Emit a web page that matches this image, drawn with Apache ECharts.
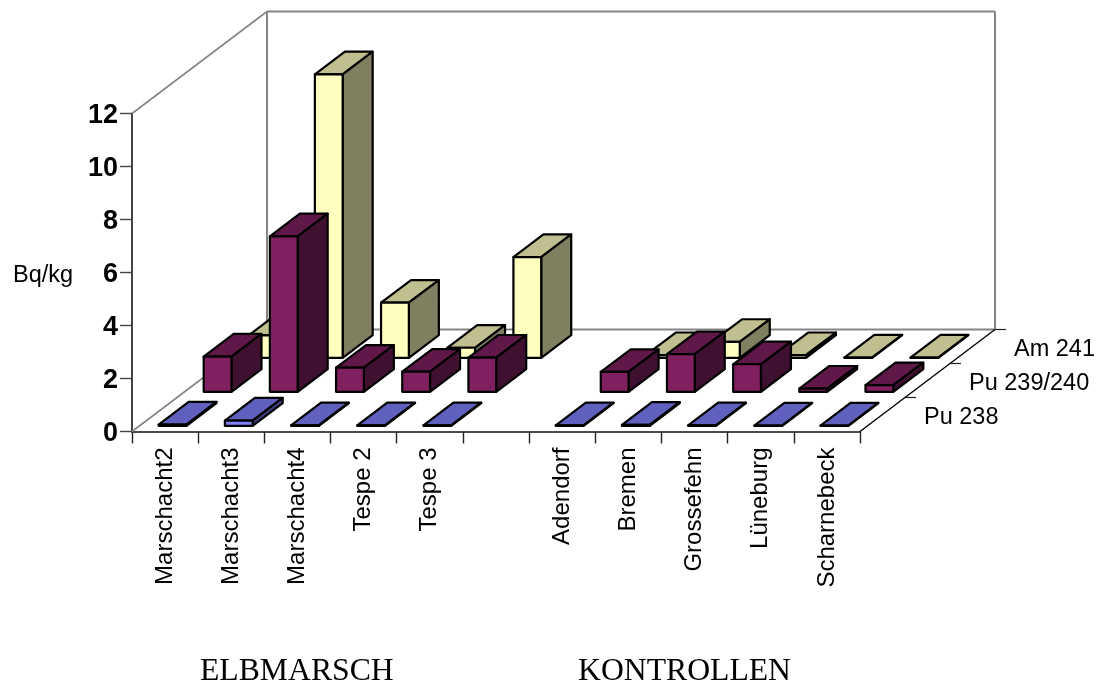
<!DOCTYPE html>
<html>
<head>
<meta charset="utf-8">
<title>Bq/kg</title>
<style>html,body{margin:0;padding:0;background:#fff}#chart{width:1098px;height:684px}</style>
<script src="https://cdn.jsdelivr.net/npm/echarts@6/dist/echarts.min.js"></script>
</head>
<body>
<div id="chart"></div>
<script>
// Sampling sites; the empty slot separates the two groups.
const categories = ['Marschacht2','Marschacht3','Marschacht4','Tespe 2','Tespe 3','','Adendorf','Bremen','Grossefehn','Lüneburg','Scharnebeck'];
const yTicks = [0, 12, 2];
const am241 = [0.85, 10.7, 2.08, 0.38, 3.8, null, 0.1, 0.6, 0.1, 0.01, 0.01];
const pu239240 = [1.33, 5.87, 0.91, 0.76, 1.29, null, 0.75, 1.42, 1.04, 0.12, 0.25];
const pu238 = [0.05, 0.2, 0.02, 0.02, 0.02, null, 0.02, 0.04, 0.02, 0.01, 0.01];
const rowNames = ['Pu 238', 'Pu 239/240', 'Am 241'];

// Oblique projection: how far the whole depth of the floor shifts on screen.
const DEPTH_X = 135, DEPTH_Y = -102;
const ROWS = 3, BAR_WIDTH = 0.42, BAR_DEPTH = 2 / 3;
const SANS = '"Liberation Sans", Arial, sans-serif';
const SERIF = '"Liberation Serif", "Times New Roman", serif';

const palette = {
  'Pu 238':     { front: '#8080ff', top: '#6060bf', side: '#404080' },
  'Pu 239/240': { front: '#802060', top: '#601848', side: '#401030' },
  'Am 241':     { front: '#ffffc0', top: '#bfbf90', side: '#808060' }
};

// Draws one bar as three faces: top, right side, front.
function barItem(row, colours) {
  return function (params, api) {
    const value = api.value(1);
    if (isNaN(value)) return null;
    const base = api.coord([api.value(0), 0]);
    const head = api.coord([api.value(0), value]);
    const w = api.size([1, 0])[0] * BAR_WIDTH;
    const startF = (row + (1 - BAR_DEPTH) / 2) / ROWS;
    const dx = DEPTH_X / ROWS * BAR_DEPTH, dy = DEPTH_Y / ROWS * BAR_DEPTH;
    const x0 = base[0] - w / 2 + DEPTH_X * startF;
    const x1 = x0 + w;
    const yB = base[1] + DEPTH_Y * startF;
    const yT = head[1] + DEPTH_Y * startF;
    const edge = { stroke: '#000', lineWidth: 2.2, lineJoin: 'round' };
    const face = (pts, fill) => ({
      type: 'polygon', shape: { points: pts },
      style: Object.assign({ fill: fill }, edge)
    });
    return {
      type: 'group',
      children: [
        face([[x0, yT], [x1, yT], [x1 + dx, yT + dy], [x0 + dx, yT + dy]], colours.top),
        face([[x1, yB], [x1, yT], [x1 + dx, yT + dy], [x1 + dx, yB + dy]], colours.side),
        face([[x0, yB], [x1, yB], [x1, yT], [x0, yT]], colours.front)
      ]
    };
  };
}

// Back wall, side wall and floor edges plus the depth axis with its row labels.
function frameItem(params, api) {
  const r = params.coordSys;
  const L = r.x, R = r.x + r.width, T = r.y, B = r.y + r.height;
  const line = (x1, y1, x2, y2, stroke, lw) => ({
    type: 'line', shape: { x1, y1, x2, y2 },
    style: { stroke: stroke, lineWidth: lw }
  });
  const wall = '#858585';
  const children = [
    line(L, T, L + DEPTH_X, T + DEPTH_Y, wall, 1.6),
    line(L, B, L + DEPTH_X, B + DEPTH_Y, wall, 1.6),
    line(L + DEPTH_X, T + DEPTH_Y, L + DEPTH_X, B + DEPTH_Y, wall, 2),
    line(L + DEPTH_X, T + DEPTH_Y, R + DEPTH_X, T + DEPTH_Y, wall, 2),
    line(R + DEPTH_X, T + DEPTH_Y, R + DEPTH_X, B + DEPTH_Y, wall, 2),
    line(L + DEPTH_X, B + DEPTH_Y, R + DEPTH_X, B + DEPTH_Y, wall, 2),
    line(R, B, R + DEPTH_X, B + DEPTH_Y, '#000', 1.4)
  ];
  for (let i = 1; i <= ROWS; i++) {
    const x = R + DEPTH_X * i / ROWS, y = B + DEPTH_Y * i / ROWS;
    children.push(line(x, y, x + 11, y, '#222', 1.2));
  }
  rowNames.forEach((name, i) => {
    children.push({
      type: 'text',
      style: {
        text: name, x: R + DEPTH_X * (i + 0.5) / ROWS + 41.5, y: B + DEPTH_Y * (i + 0.5) / ROWS + 3,
        textAlign: 'left', textVerticalAlign: 'middle',
        font: '23.5px ' + SANS, fill: '#000'
      }
    });
  });
  return { type: 'group', children: children };
}

const toData = arr => arr.map((v, i) => [i, v]);
const barSeries = (name, values, row) => ({
  type: 'custom', name: name, data: toData(values),
  encode: { x: 0, y: 1 }, clip: false, silent: true,
  renderItem: barItem(row, palette[name])
});

const chart = echarts.init(document.getElementById('chart'), null, { renderer: 'canvas' });
chart.setOption({
  animation: false,
  backgroundColor: '#fff',
  grid: { left: 132, top: 113.5, width: 728, height: 318, containLabel: false },
  xAxis: {
    type: 'category', data: categories, boundaryGap: true,
    axisLine: { lineStyle: { color: '#111', width: 1.6 } },
    axisTick: { show: true, length: 12, interval: 0, alignWithLabel: false, lineStyle: { color: '#222', width: 1.4 } },
    axisLabel: { interval: 0, rotate: 90, margin: 16, color: '#000', fontFamily: SANS, fontSize: 24 },
    splitLine: { show: false }
  },
  yAxis: {
    type: 'value', min: yTicks[0], max: yTicks[1], interval: yTicks[2],
    axisLine: { show: true, lineStyle: { color: '#444', width: 2 } },
    axisTick: { show: true, length: 12, lineStyle: { color: '#444', width: 1.4 } },
    axisLabel: { margin: 14, verticalAlign: 'top', lineHeight: 4, color: '#000', fontFamily: SANS, fontSize: 27, fontWeight: 'bold' },
    splitLine: { show: false }
  },
  graphic: [
    { type: 'text', left: 13, top: 264, style: { text: 'Bq/kg', font: '23.5px ' + SANS, fill: '#000' } },
    { type: 'text', left: 200, top: 656, style: { text: 'ELBMARSCH', font: '31.7px ' + SERIF, fill: '#000' } },
    { type: 'text', left: 578, top: 656, style: { text: 'KONTROLLEN', font: '31.7px ' + SERIF, fill: '#000' } }
  ],
  series: [
    { type: 'custom', name: 'frame', data: [[0, 0]], encode: { x: 0, y: 1 }, clip: false, silent: true, renderItem: frameItem },
    barSeries('Am 241', am241, 2),
    barSeries('Pu 239/240', pu239240, 1),
    barSeries('Pu 238', pu238, 0)
  ]
});
</script>
</body>
</html>
